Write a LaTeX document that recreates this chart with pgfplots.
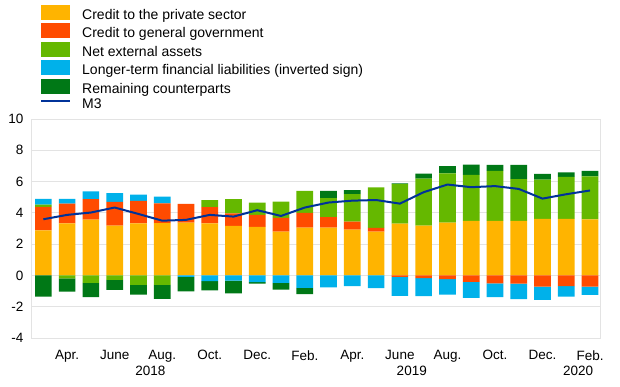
\documentclass[border=0pt]{standalone}
\usepackage{fontspec}
\setmainfont{Liberation Sans}
\usepackage{pgfplots}
\usepackage{pgfplotstable}
\pgfplotsset{compat=1.18}

\definecolor{cpriv}{HTML}{FFB400}
\definecolor{cgov}{HTML}{FF4B00}
\definecolor{cnea}{HTML}{65B800}
\definecolor{cltfl}{HTML}{00B1EA}
\definecolor{crem}{HTML}{007816}
\definecolor{cm3}{HTML}{003299}
\definecolor{cgrid}{HTML}{E3E3E3}

\pgfplotstableread{
x priv govp neap ltflp remp govn nean ltfln remn m3
0  2.88 1.50 0.15 0.36 0    0     0     0     -1.35 3.59
1  3.33 1.26 0    0.30 0    0     -0.19 0     -0.85 3.87
2  3.57 1.30 0    0.51 0    0     -0.47 0     -0.92 4.02
3  3.18 1.52 0    0.56 0    0     -0.28 0     -0.64 4.34
4  3.33 1.43 0    0.41 0    0     -0.60 0     -0.62 3.93
5  3.35 1.26 0    0.43 0    0     -0.60 0     -0.90 3.50
6  3.38 1.20 0    0    0    0     0     -0.10 -0.92 3.55
7  3.33 1.03 0.45 0    0    0     0     -0.36 -0.60 3.87
8  3.16 0.81 0.90 0    0    0     0     -0.34 -0.81 3.76
9  3.10 0.77 0.79 0    0    0     0     -0.43 -0.10 4.17
10 2.80 0.88 1.03 0    0    0     0     -0.47 -0.43 3.80
11 3.06 0.94 1.41 0    0    0     0     -0.79 -0.41 4.34
12 3.06 0.66 1.22 0    0.47 0     0     -0.77 0     4.66
13 2.93 0.51 1.75 0    0.26 0     0     -0.68 0     4.78
14 2.80 0.24 2.59 0    0    0     0     -0.81 0     4.82
15 3.31 0    2.52 0    0.06 -0.10 0     -1.20 0     4.59
16 3.18 0    3.01 0    0.32 -0.17 0     -1.15 0     5.32
17 3.38 0    3.14 0    0.47 -0.24 0     -0.98 0     5.81
18 3.48 0    2.95 0    0.66 -0.41 0     -1.03 0     5.64
19 3.48 0    3.21 0    0.38 -0.51 0     -0.88 0     5.71
20 3.48 0    2.67 0    0.92 -0.53 0     -0.98 0     5.53
21 3.61 0    2.52 0    0.36 -0.71 0     -0.85 0     4.91
22 3.61 0    2.69 0    0.28 -0.68 0     -0.68 0     5.19
23 3.59 0    2.74 0    0.36 -0.71 0     -0.53 0     5.43
}\data

\pgfplotsset{
  base/.style={
    scale only axis, width=569pt, height=219pt,
    xmin=-0.52, xmax=23.42, ymin=-4, ymax=10,
    ytick={-4,-2,...,10},
    xtick={1,3,...,23},
    xticklabels={Apr.,June,Aug.,Oct.,Dec.,Feb.,Apr.,June,Aug.,Oct.,Dec.,Feb.},
    major tick length=0pt,
    tick label style={font=\fontsize{13.5}{16}\selectfont},
    /pgf/number format/assume math mode=true,
    xticklabel style={yshift=-9pt},
    yticklabel style={xshift=-4pt},
    axis line style={draw=cgrid, line width=0.8pt},
    ymajorgrids, grid style={draw=cgrid, line width=0.8pt},
    bar width=16.7pt,
  },
  sq/.style={legend image code/.code={\fill[##1] (0pt,-4.5pt) rectangle (29pt,10.5pt);}},
  ln/.style={legend image code/.code={\draw[##1] (0pt,3.5pt) -- (29pt,3.5pt);}},
}

\begin{document}
\begin{tikzpicture}
\begin{axis}[base, ybar stacked, clip=false,
  legend style={at={(axis description cs:0,1)}, anchor=south west,
    xshift=9pt, yshift=7.7pt, draw=none, fill=none,
    font=\fontsize{14}{16}\selectfont, row sep=0.9pt,
    inner sep=0pt, cells={anchor=west},
    nodes={inner sep=0pt, text height=11pt, text depth=3pt}},
  legend cell align=left,
]
\addplot[fill=cpriv, draw=none, sq] table[x=x, y=priv] {\data};
\addplot[fill=cgov, draw=none, sq] table[x=x, y=govp] {\data};
\addplot[fill=cnea, draw=none, sq] table[x=x, y=neap] {\data};
\addplot[fill=cltfl, draw=none, sq] table[x=x, y=ltflp] {\data};
\addplot[fill=crem, draw=none, sq] table[x=x, y=remp] {\data};
\addlegendimage{cm3, line width=2pt, ln}
\legend{\hspace{11pt}Credit to the private sector,
        \hspace{11pt}Credit to general government,
        \hspace{11pt}Net external assets,
        \hspace{11pt}Longer-term financial liabilities (inverted sign),
        \hspace{11pt}Remaining counterparts,
        \hspace{11pt}M3}
\node[font=\fontsize{13.5}{16}\selectfont, anchor=base] at ([yshift=-38pt]axis cs:4.5,-4) {2018};
\node[font=\fontsize{13.5}{16}\selectfont, anchor=base] at ([yshift=-38pt]axis cs:15.5,-4) {2019};
\node[font=\fontsize{13.5}{16}\selectfont, anchor=base] at ([yshift=-38pt]axis cs:22.5,-4) {2020};
\end{axis}
\begin{axis}[base, ybar stacked, hide axis]
\addplot[fill=cgov, draw=none] table[x=x, y=govn] {\data};
\addplot[fill=cnea, draw=none] table[x=x, y=nean] {\data};
\addplot[fill=cltfl, draw=none] table[x=x, y=ltfln] {\data};
\addplot[fill=crem, draw=none] table[x=x, y=remn] {\data};
\end{axis}
\begin{axis}[base, hide axis]
\addplot[cm3, line width=2pt, mark=none] table[x=x, y=m3] {\data};
\end{axis}
\pgfresetboundingbox
\path[use as bounding box] (-31pt,-49pt) rectangle (589pt,338pt);
\end{tikzpicture}
\end{document}
